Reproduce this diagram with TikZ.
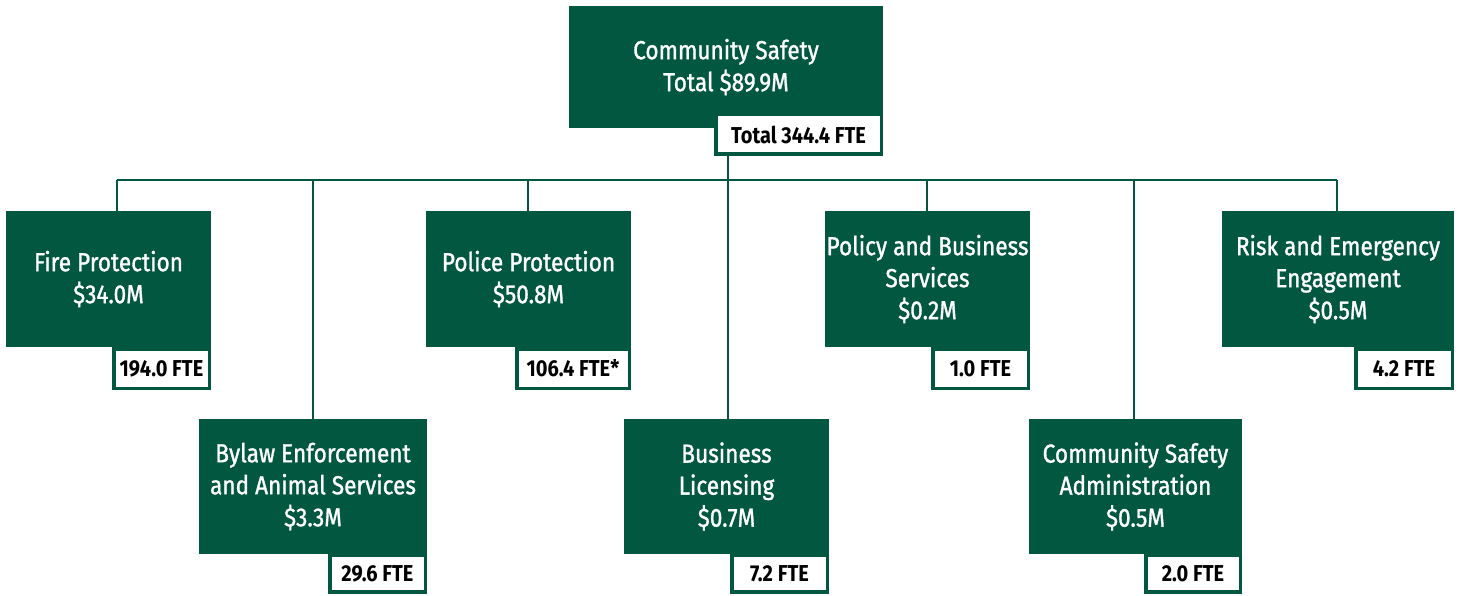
\documentclass[tikz,border=0pt]{standalone}
\usepackage{fontspec}
\setmainfont{Fira Sans}[FakeStretch=0.87]
\newfontfamily\boxfont{Fira Sans}[FakeStretch=0.87,FakeBold=1.2]
\definecolor{cgreen}{RGB}{2,87,64}
\begin{document}
\begin{tikzpicture}[x=1pt,y=-1pt,
  gbox/.style={fill=cgreen,draw=none,text=white,align=center,inner sep=0pt,
    font=\boxfont\fontsize{26}{32}\selectfont},
  ftebox/.style={fill=white,draw=cgreen,line width=3.5pt,text=black,inner sep=0pt,
    font=\bfseries\fontsize{23}{25}\selectfont},
  conn/.style={draw=cgreen,line width=2.6pt}]
\useasboundingbox (0,0) rectangle (1458,596);
% top
\node[gbox,minimum width=314pt,minimum height=122pt] (top) at (726,67) {Community Safety\\Total \$89.9M};
\coordinate (busL) at (117,180);
\coordinate (busR) at (1337,180);
\coordinate (cFire) at (117,180);
\coordinate (cBylaw) at (313,180);
\coordinate (cPolice) at (528,180);
\coordinate (cTop) at (728,180);
\coordinate (cPolicy) at (927,180);
\coordinate (cAdmin) at (1134,180);
\coordinate (cRisk) at (1337,180);
% row 1
\node[gbox,minimum width=205pt,minimum height=136pt] (fire) at (108.5,279) {Fire Protection\\\$34.0M};
\node[gbox,minimum width=205pt,minimum height=136pt] (police) at (528.5,279) {Police Protection\\\$50.8M};
\node[gbox,minimum width=205pt,minimum height=136pt] (policy) at (927.5,279) {Policy and Business\\Services\\\$0.2M};
\node[gbox,minimum width=232pt,minimum height=136pt] (risk) at (1338,279) {Risk and Emergency\\Engagement\\\$0.5M};
% row 2
\node[gbox,minimum width=228pt,minimum height=135pt] (bylaw) at (313,486.5) {Bylaw Enforcement\\and Animal Services\\\$3.3M};
\node[gbox,minimum width=205pt,minimum height=135pt] (business) at (726.5,486.5) {Business\\Licensing\\\$0.7M};
\node[gbox,minimum width=213pt,minimum height=135pt] (admin) at (1135.5,486.5) {Community Safety\\Administration\\\$0.5M};
% FTE boxes
\node[ftebox,minimum width=165.5pt,minimum height=39.5pt] (topfte) at (798.5,134.5) {Total 344.4 FTE};
\node[ftebox,minimum width=95.5pt,minimum height=39.5pt] (firefte) at (161.5,368.5) {194.0 FTE};
\node[ftebox,minimum width=112.5pt,minimum height=39.5pt] (policefte) at (573,368.5) {106.4 FTE*};
\node[ftebox,minimum width=95.5pt,minimum height=39.5pt] (policyfte) at (980.5,368.5) {1.0 FTE};
\node[ftebox,minimum width=96.5pt,minimum height=39.5pt] (riskfte) at (1404,368.5) {4.2 FTE};
\node[ftebox,minimum width=95.5pt,minimum height=37pt] (bylawfte) at (377.5,573.5) {29.6 FTE};
\node[ftebox,minimum width=95.5pt,minimum height=37pt] (businessfte) at (779.5,573.5) {7.2 FTE};
\node[ftebox,minimum width=94.5pt,minimum height=37pt] (adminfte) at (1193,573.5) {2.0 FTE};
% connectors
\draw[conn] (busL) -- (busR);
\draw[conn] (topfte.south -| cTop) -- (business.north -| cTop);
\draw[conn] (cFire) -- (fire.north -| cFire);
\draw[conn] (cBylaw) -- (bylaw.north -| cBylaw);
\draw[conn] (cPolice) -- (police.north -| cPolice);
\draw[conn] (cPolicy) -- (policy.north -| cPolicy);
\draw[conn] (cAdmin) -- (admin.north -| cAdmin);
\draw[conn] (cRisk) -- (risk.north -| cRisk);
\end{tikzpicture}
\end{document}
